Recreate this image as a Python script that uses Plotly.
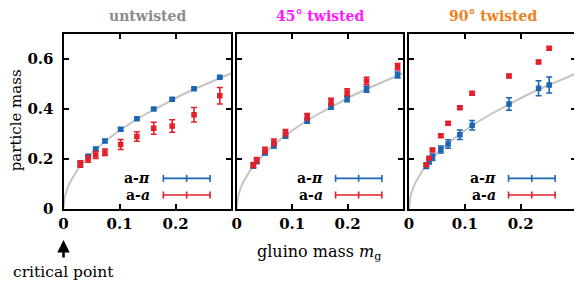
import plotly.graph_objects as go

# ---------------- data ----------------
titles = ["untwisted", "45° twisted", "90° twisted"]
title_colors = ["#8c8c8c", "#ff1aff", "#f07f1e"]

# untwisted
x_un = [0.030, 0.044, 0.0575, 0.074, 0.102, 0.131, 0.161, 0.194, 0.233, 0.279]
api_un = [0.180, 0.211, 0.240, 0.272, 0.319, 0.361, 0.400, 0.439, 0.481, 0.527]
api_un_err = [0.006, 0.006, 0.006, 0.006, 0.006, 0.005, 0.005, 0.005, 0.005, 0.005]
aa_un = [0.180, 0.200, 0.216, 0.227, 0.258, 0.290, 0.323, 0.332, 0.377, 0.453]
aa_un_err = [0.013, 0.013, 0.014, 0.013, 0.020, 0.019, 0.024, 0.025, 0.029, 0.033]

# 45 degree twisted
x_45 = [0.030, 0.036, 0.051, 0.067, 0.088, 0.127, 0.170, 0.199, 0.234, 0.290]
api_45 = [0.172, 0.190, 0.225, 0.253, 0.293, 0.353, 0.409, 0.440, 0.479, 0.536]
api_45_err = [0.008, 0.008, 0.009, 0.009, 0.010, 0.010, 0.010, 0.011, 0.012, 0.012]
aa_45 = [0.176, 0.195, 0.235, 0.267, 0.305, 0.369, 0.429, 0.467, 0.512, 0.569]
aa_45_err = [0.010, 0.011, 0.012, 0.013, 0.013, 0.013, 0.014, 0.014, 0.015, 0.013]

# 90 degree twisted
x_90 = [0.031, 0.036, 0.042, 0.057, 0.070, 0.091, 0.113, 0.179, 0.232, 0.251]
api_90 = [0.172, 0.190, 0.207, 0.238, 0.260, 0.297, 0.335, 0.420, 0.483, 0.496]
api_90_err = [0.010, 0.010, 0.013, 0.014, 0.017, 0.019, 0.019, 0.025, 0.030, 0.032]
aa_90 = [0.177, 0.203, 0.236, 0.293, 0.343, 0.405, 0.463, 0.532, 0.588, 0.643]
aa_90_err = [0.006, 0.006, 0.006, 0.006, 0.006, 0.006, 0.006, 0.006, 0.006, 0.006]

# gray guide curve
curve_x = [0, 0.0005, 0.001, 0.002, 0.003, 0.005, 0.008, 0.012, 0.017, 0.023, 0.030,
           0.040, 0.050, 0.065, 0.080, 0.100, 0.125, 0.150, 0.180, 0.210, 0.240, 0.270, 0.300]
curve_y = [0, 0.022, 0.031, 0.044, 0.054, 0.070, 0.089, 0.108, 0.129, 0.150, 0.172,
           0.198, 0.222, 0.253, 0.281, 0.314, 0.351, 0.384, 0.421, 0.455, 0.486, 0.516, 0.543]

x_ticks = [0, 0.1, 0.2]
x_ticktext = ["0", "0.1", "0.2"]
y_ticks = [0, 0.2, 0.4, 0.6]
y_ticktext = ["0", "0.2", "0.4", "0.6"]

BLUE = "#1a66b3"
RED = "#e3202a"
GRAY = "#c4c4c4"
FONT = "DejaVu Serif"

panels = [
    (x_un, api_un, api_un_err, aa_un, aa_un_err),
    (x_45, api_45, api_45_err, aa_45, aa_45_err),
    (x_90, api_90, api_90_err, aa_90, aa_90_err),
]
domains = [[0.001, 0.3275], [0.3386, 0.662], [0.6745, 1.0]]

fig = go.Figure()
for i, (xs, api, api_e, aa, aa_e) in enumerate(panels):
    xa = "x" if i == 0 else f"x{i+1}"
    ya = "y" if i == 0 else f"y{i+1}"
    fig.add_trace(go.Scatter(x=curve_x, y=curve_y, mode="lines", xaxis=xa, yaxis=ya,
                             line=dict(color=GRAY, width=2), showlegend=False, hoverinfo="skip"))
    fig.add_trace(go.Scatter(x=xs, y=api, mode="markers", xaxis=xa, yaxis=ya,
                             marker=dict(symbol="square", size=5.5, color=BLUE),
                             error_y=dict(type="data", array=api_e, color=BLUE, thickness=1.6, width=3),
                             showlegend=False))
    fig.add_trace(go.Scatter(x=xs, y=aa, mode="markers", xaxis=xa, yaxis=ya,
                             marker=dict(symbol="square", size=5.5, color=RED),
                             error_y=dict(type="data", array=aa_e, color=RED, thickness=1.6, width=3),
                             showlegend=False))

tickfont = dict(family=FONT, size=15, color="black", weight="bold")
# page body has an 8px margin, so the figure is drawn 8px in from the window edge
layout = dict(width=574, height=283, margin=dict(l=55, r=6, t=26, b=82),
              paper_bgcolor="white", plot_bgcolor="white", showlegend=False)
for i in range(3):
    xk = "xaxis" if i == 0 else f"xaxis{i+1}"
    yk = "yaxis" if i == 0 else f"yaxis{i+1}"
    anchor_y = "y" if i == 0 else f"y{i+1}"
    anchor_x = "x" if i == 0 else f"x{i+1}"
    layout[xk] = dict(domain=domains[i], range=[0, 0.299], anchor=anchor_y,
                      tickvals=x_ticks, ticktext=x_ticktext, ticks="inside", ticklen=5,
                      tickwidth=1.5, tickcolor="black", showline=True, linecolor="black",
                      linewidth=2, mirror="ticks", showgrid=False, zeroline=False,
                      tickfont=tickfont, automargin=False)
    layout[yk] = dict(domain=[0, 1], range=[0, 0.7], anchor=anchor_x,
                      tickvals=y_ticks, ticktext=y_ticktext, ticks="inside", ticklen=5,
                      tickwidth=1.5, tickcolor="black", showline=True, linecolor="black",
                      linewidth=2, mirror="ticks", showgrid=False, zeroline=False,
                      showticklabels=(i == 0), tickfont=tickfont, ticklabelstandoff=5,
                      automargin=False)
fig.update_layout(**layout)

annotations = []
shapes = []
for i in range(3):
    xd = "x domain" if i == 0 else f"x{i+1} domain"
    yd = "y domain" if i == 0 else f"y{i+1} domain"
    annotations.append(dict(text=titles[i], xref=xd, yref="paper", x=0.5, y=1.103,
                            xanchor="center", yanchor="middle", showarrow=False,
                            font=dict(family=FONT, size=14, color=title_colors[i], weight="bold")))
    for label, color, yy in [("a-<i>π</i>", BLUE, 0.175), ("a-<i>a</i>", RED, 0.08)]:
        annotations.append(dict(text=label, xref=xd, yref=yd, x=0.53, y=yy,
                                xanchor="right", yanchor="middle", showarrow=False,
                                font=dict(family=FONT, size=14, color="black", weight="bold")))
        shapes.append(dict(type="line", xref=xd, yref=yd, x0=0.596, x1=0.875, y0=yy, y1=yy,
                           line=dict(color=color, width=1.6)))
        for xx in (0.596, 0.735, 0.875):
            shapes.append(dict(type="line", xref=xd, yref=yd, x0=xx, x1=xx,
                               y0=yy - 0.02, y1=yy + 0.02, line=dict(color=color, width=1.6)))

annotations.append(dict(text="particle mass", xref="paper", yref="paper", x=-0.09, y=0.506,
                        textangle=-90, xanchor="center", yanchor="middle", showarrow=False,
                        font=dict(family=FONT, size=15, color="black")))
annotations.append(dict(text="gluino mass <i>m</i><sub>g</sub>", xref="paper", yref="paper",
                        x=0.499, y=-0.251, xanchor="center", yanchor="middle", showarrow=False,
                        font=dict(family=FONT, size=16, color="black")))
# "critical point" label with an arrow pointing up at x = 0
annotations.append(dict(text="critical point", xref="x", yref="paper", x=0, y=-0.177,
                        showarrow=True, arrowhead=2, arrowsize=1, arrowwidth=2.5,
                        arrowcolor="black", ax=0, ay=32, startstandoff=4,
                        font=dict(family=FONT, size=15.5, color="black")))
fig.update_layout(annotations=annotations, shapes=shapes)

fig.write_html("out.html")
